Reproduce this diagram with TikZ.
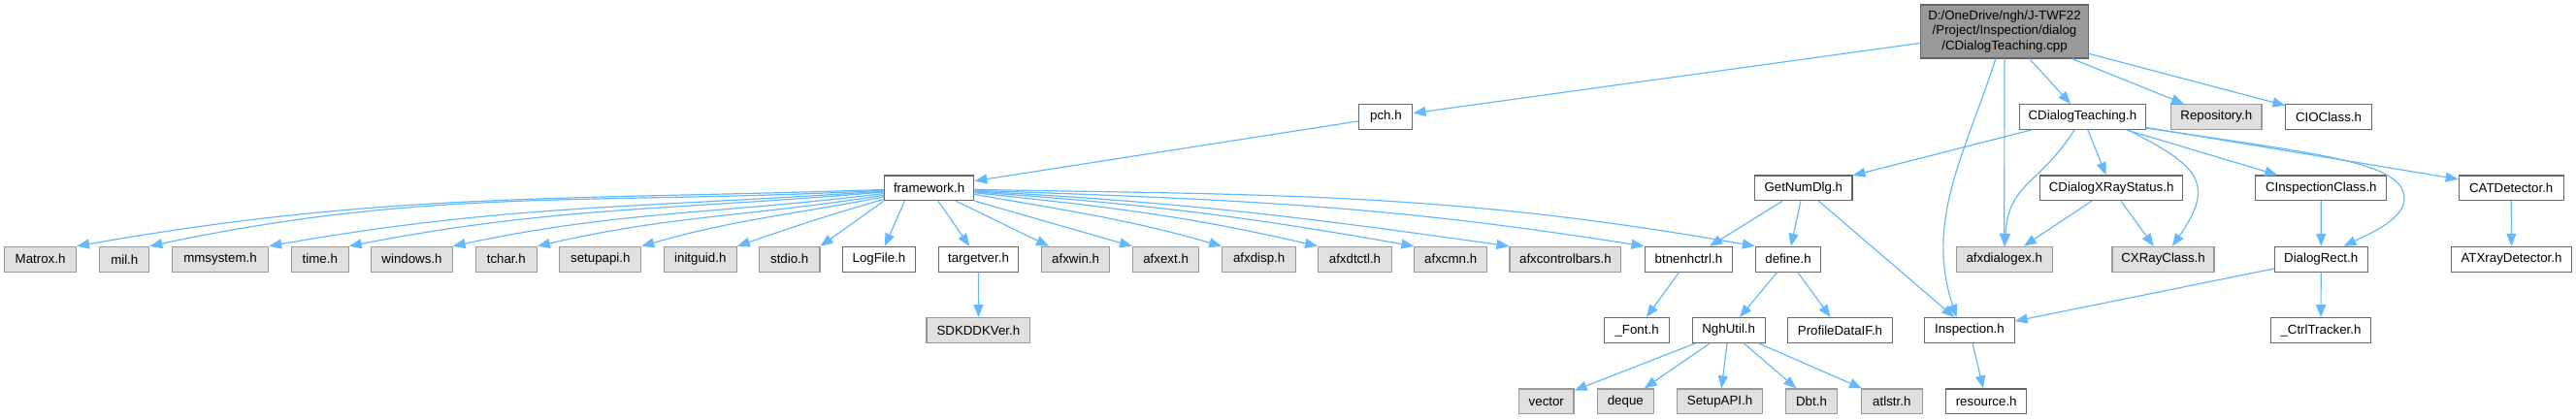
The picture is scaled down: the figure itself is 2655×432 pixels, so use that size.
\documentclass[tikz,border=0pt]{standalone}
\usepackage{fontspec}
\setmainfont{Liberation Sans}
\usepackage{tikz}
\usetikzlibrary{arrows.meta}
\definecolor{edgeblue}{HTML}{63B8FF}
\definecolor{boxline}{HTML}{666666}
\definecolor{extline}{HTML}{999999}
\definecolor{extfill}{HTML}{E0E0E0}
\definecolor{mainfill}{HTML}{999999}

\begin{document}
\begin{tikzpicture}[x=1pt,y=-1pt,
		file/.style={draw=boxline,fill=white,line width=1.1pt,minimum height=25.7pt,inner sep=0pt,font=\fontsize{13.3}{15.3}\selectfont},
		ext/.style={file,draw=extline,fill=extfill},
		mainfile/.style={file,fill=mainfill,align=center,minimum height=55pt},
		dep/.style={draw=edgeblue,line width=1.2pt,-{Triangle[length=13pt,width=10pt]}}]
				\useasboundingbox (0,0) rectangle (2655,432);
				\node[mainfile,minimum width=172.5pt] (cpp) at (2066,32.5) {D:/OneDrive/ngh/J-TWF22\\/Project/Inspection/dialog\\/CDialogTeaching.cpp};
				\node[file,minimum width=55pt] (pch) at (1428.4,120.5) {pch.h};
				\node[file,minimum width=130.4pt] (teachH) at (2146.4,120.5) {CDialogTeaching.h};
				\node[ext,minimum width=93.4pt] (repo) at (2284.3,120.5) {Repository.h};
				\node[file,minimum width=88.3pt] (ioclass) at (2400,120.5) {CIOClass.h};
				\node[file,minimum width=92.4pt] (framework) at (957.6,193.8) {framework.h};
				\node[file,minimum width=100.4pt] (getnum) at (1858.8,193.8) {GetNumDlg.h};
				\node[file,minimum width=147.2pt] (xraystatus) at (2176.1,193.8) {CDialogXRayStatus.h};
				\node[file,minimum width=135pt] (inspclass) at (2392.3,193.8) {CInspectionClass.h};
				\node[file,minimum width=108pt] (atdet) at (2588.2,193.8) {CATDetector.h};
				\node[ext,minimum width=74pt] (matrox) at (41.6,267.2) {Matrox.h};
				\node[ext,minimum width=51pt] (mil) at (128.3,267.2) {mil.h};
				\node[ext,minimum width=99.3pt] (mmsystem) at (227,267.2) {mmsystem.h};
				\node[ext,minimum width=59pt] (timeh) at (329.8,267.2) {time.h};
				\node[ext,minimum width=83.2pt] (windows) at (424.5,267.2) {windows.h};
				\node[ext,minimum width=63pt] (tchar) at (521.8,267.2) {tchar.h};
				\node[ext,minimum width=83.8pt] (setupapi) at (618.8,267.2) {setupapi.h};
				\node[ext,minimum width=75.2pt] (initguid) at (721.8,267.2) {initguid.h};
				\node[ext,minimum width=62.5pt] (stdio) at (813.7,267.2) {stdio.h};
				\node[file,minimum width=75.2pt] (logfile) at (906,267.2) {LogFile.h};
				\node[file,minimum width=82.7pt] (targetver) at (1008.5,267.2) {targetver.h};
				\node[ext,minimum width=69.4pt] (afxwin) at (1108.6,267.2) {afxwin.h};
				\node[ext,minimum width=68.3pt] (afxext) at (1201.6,267.2) {afxext.h};
				\node[ext,minimum width=75.8pt] (afxdisp) at (1297.7,267.2) {afxdisp.h};
				\node[ext,minimum width=75.7pt] (afxdtctl) at (1396.5,267.2) {afxdtctl.h};
				\node[ext,minimum width=74.6pt] (afxcmn) at (1495.2,267.2) {afxcmn.h};
				\node[ext,minimum width=114.8pt] (afxbars) at (1613.4,267.2) {afxcontrolbars.h};
				\node[file,minimum width=90.7pt] (btnenh) at (1740.4,267.2) {btnenhctrl.h};
				\node[file,minimum width=67.3pt] (define) at (1843,267.2) {define.h};
				\node[ext,minimum width=99.3pt] (dialogex) at (2065.7,267.2) {afxdialogex.h};
				\node[ext,minimum width=105pt] (xrayclass) at (2229.5,267.2) {CXRayClass.h};
				\node[file,minimum width=95.8pt] (dlgrect) at (2392.2,267.2) {DialogRect.h};
				\node[file,minimum width=123.5pt] (atxray) at (2588.5,267.2) {ATXrayDetector.h};
				\node[ext,minimum width=106.8pt] (sdkddk) at (1008.4,340.5) {SDKDDKVer.h};
				\node[file,minimum width=67pt] (font) at (1687.1,340.5) {\_Font.h};
				\node[file,minimum width=75pt] (nghutil) at (1781.7,340.5) {NghUtil.h};
				\node[file,minimum width=107.2pt] (profile) at (1896.5,340.5) {ProfileDataIF.h};
				\node[file,minimum width=92.3pt] (inspection) at (2029.9,340.5) {Inspection.h};
				\node[file,minimum width=103.3pt] (ctrltracker) at (2392,340.5) {\_CtrlTracker.h};
				\node[ext,minimum width=56.3pt] (vector) at (1593.8,413.8) {vector};
				\node[ext,minimum width=57.5pt] (deque) at (1675.3,413.8) {deque};
				\node[ext,minimum width=87.8pt] (setupapiU) at (1772.6,413.8) {SetupAPI.h};
				\node[ext,minimum width=53.4pt] (dbt) at (1867,413.8) {Dbt.h};
				\node[ext,minimum width=62.9pt] (atlstr) at (1949.8,413.8) {atlstr.h};
				\node[file,minimum width=83.1pt] (resource) at (2047.2,413.8) {resource.h};
				\draw[dep] (cpp) -- (pch);
				\draw[dep] (cpp) -- (teachH);
				\draw[dep] (cpp) -- (repo);
				\draw[dep] (cpp) -- (ioclass);
				\draw[dep] (cpp) -- (dialogex);
				\draw[dep] (cpp) to[out=252,in=108] (inspection.135);
				\draw[dep] (pch) -- (framework);
				\draw[dep] (framework.182) to[out=182,in=10] (matrox.north east);
				\draw[dep] (framework.183) to[out=183,in=12] (mil.north east);
				\draw[dep] (framework.184) to[out=184,in=10] (mmsystem.north east);
				\draw[dep] (framework.185) to[out=185,in=11] (timeh.north east);
				\draw[dep] (framework.187) to[out=187,in=12] (windows.north east);
				\draw[dep] (framework.189) to[out=189,in=13] (tchar.north east);
				\draw[dep] (framework.191) to[out=191,in=16] (setupapi.north east);
				\draw[dep] (framework.194) to[out=196,in=19] (initguid.north east);
				\draw[dep] (framework.south west) -- (stdio.north east);
				\draw[dep] (framework.208) -- (logfile);
				\draw[dep] (framework) -- (targetver);
				\draw[dep] (framework) -- (afxwin);
				\draw[dep] (framework.south east) -- (afxext.north west);
				\draw[dep] (framework.-8) to[out=-10,in=164] (afxdisp.north west);
				\draw[dep] (framework.-6) to[out=-6,in=167] (afxdtctl.north west);
				\draw[dep] (framework.-5) to[out=-4,in=170] (afxcmn.north west);
				\draw[dep] (framework.-4) to[out=-3,in=172] (afxbars.north west);
				\draw[dep] (framework.-3) to[out=-2,in=171] (btnenh.north west);
				\draw[dep] (framework.-2) to[out=-1,in=170] (define.north west);
				\draw[dep] (targetver) -- (sdkddk);
				\draw[dep] (btnenh) -- (font);
				\draw[dep] (define) -- (nghutil);
				\draw[dep] (define) -- (profile);
				\draw[dep] (nghutil) -- (vector);
				\draw[dep] (nghutil) -- (deque);
				\draw[dep] (nghutil) -- (setupapiU);
				\draw[dep] (nghutil) -- (dbt);
				\draw[dep] (nghutil) -- (atlstr);
				\draw[dep] (teachH) -- (getnum);
				\draw[dep] (teachH) to[out=238,in=87,looseness=1.2] (dialogex);
				\draw[dep] (teachH) -- (xraystatus);
				\draw[dep] (teachH.-16) to[out=-27,in=55,looseness=1.6] (xrayclass);
				\draw[dep] (teachH) -- (inspclass);
				\draw[dep] (teachH.-10) .. controls (2400,160) and (2478,168) .. (2478,205) .. controls (2478,225) and (2445,240) .. (dlgrect.30);
				\draw[dep] (teachH) -- (atdet);
				\draw[dep] (getnum) -- (btnenh);
				\draw[dep] (getnum) -- (define);
				\draw[dep] (getnum) -- (inspection);
				\draw[dep] (xraystatus) -- (dialogex);
				\draw[dep] (xraystatus) -- (xrayclass);
				\draw[dep] (inspclass) -- (dlgrect);
				\draw[dep] (atdet) -- (atxray);
				\draw[dep] (dlgrect) -- (inspection);
				\draw[dep] (dlgrect) -- (ctrltracker);
				\draw[dep] (inspection) -- (resource);
	\end{tikzpicture}
\end{document}
